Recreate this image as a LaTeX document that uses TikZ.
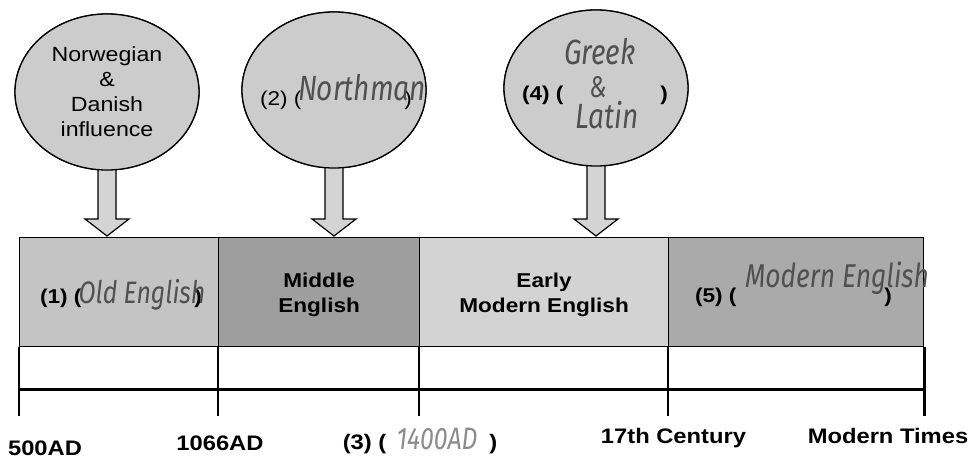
\documentclass[tikz,border=0pt]{standalone}
\usepackage{fontspec}
\setmainfont{Liberation Sans}[FakeStretch=1.13]
\newfontfamily\hand{Fira Sans}[FakeStretch=0.8]
\usetikzlibrary{shapes.geometric,calc}

\definecolor{ringfill}{HTML}{CCCCCC}
\definecolor{arrowfill}{HTML}{D4D4D4}
\definecolor{oldfill}{HTML}{C4C4C4}
\definecolor{midfill}{HTML}{9E9E9E}
\definecolor{earlyfill}{HTML}{D3D3D3}
\definecolor{modfill}{HTML}{AAAAAA}
\definecolor{ink}{HTML}{505050}
\definecolor{pencil}{HTML}{8C8C8C}

\newcommand\handsz[1]{\hand\itshape\fontsize{#1}{#1}\selectfont}

% block arrow hanging from a bubble (#1) down onto a period box (#2)
\newcommand\dropArrow[2]{%
  \draw[drop] ($(#1.south)+(-9,-6)$) |- ($(#1.south |- #2.north)+(-22,-18)$)
    -- ($(#1.south |- #2.north)+(0,-1)$) -- ($(#1.south |- #2.north)+(22,-18)$)
    -| ($(#1.south)+(9,-6)$);}

\tikzset{
  bubble/.style={ellipse, draw, line width=1.3pt, fill=ringfill,
    minimum width=184pt, minimum height=156pt, inner sep=0pt,
    align=center, font=\fontsize{20.5}{25}\selectfont},
  period/.style={rectangle, draw, line width=1.2pt, anchor=north west,
    minimum height=109pt, inner sep=0pt},
  drop/.style={draw, line width=1.2pt, fill=arrowfill},
  axis/.style={line width=2.8pt},
  printed/.style={font=\fontsize{20}{25}\selectfont, inner sep=0pt, anchor=base},
  heavy/.style={font=\bfseries\fontsize{20}{25}\selectfont, inner sep=0pt, anchor=base},
  heading/.style={font=\bfseries\fontsize{20}{25}\selectfont, inner sep=0pt, align=center},
  datetxt/.style={font=\bfseries\fontsize{21}{25}\selectfont, inner sep=0pt, anchor=base},
  scrawl/.style={text=ink, inner sep=0pt, anchor=base},
}

\begin{document}
\begin{tikzpicture}[x=1pt, y=-1pt]
\fill[white] (0,0) rectangle (972,460);
\useasboundingbox (0,0) rectangle (972,460);

% period boxes of the timeline
\node[period, fill=oldfill,   minimum width=199pt] (b1) at (19,237)  {};
\node[period, fill=midfill,   minimum width=201pt] (b2) at (218,237) {};
\node[period, fill=earlyfill, minimum width=249pt] (b3) at (419,237) {};
\node[period, fill=modfill,   minimum width=255pt] (b4) at (668,237) {};

% axis below the boxes: ticks and a rule
\draw[axis] (b1.south west) -- ++(0,69);
\draw[axis] (b2.south west) -- ++(0,69);
\draw[axis] (b3.south west) -- ++(0,69);
\draw[axis] (b4.south west) -- ++(0,69);
\draw[axis] (b4.south east) -- ++(0,69);
\draw[axis] ($(b1.south west)+(0,42)$) -- ($(b4.south east)+(0,42)$);

% influence bubbles and their arrows
\coordinate (p1) at (107,92);
\coordinate (p2) at (334,90);
\coordinate (p3) at (596,88);
\path (p1) node[bubble] (c1) {};
\path (p2) node[bubble] (c2) {};
\path (p3) node[bubble] (c3) {};
\dropArrow{c1}{b1}
\dropArrow{c2}{b2}
\dropArrow{c3}{b3}
\node[bubble] (c1) at (p1) {Norwegian\\\&\\Danish\\influence};
\node[bubble] (c2) at (p2) {};
\node[bubble] (c3) at (p3) {};

% printed labels
\node[printed] (q2) at (336,106) {(2) (\hspace{103pt})};
\node[heavy]   (q4) at (595,100) {(4) (\hspace{97pt})};
\node[heavy]   (q1) at (121,303) {(1) (\hspace{113pt})};
\node[heading] (m2) at ($(b2.center)+(0,2.5)$) {Middle\\English};
\node[heading] (m3) at ($(b3.center)+(0,2.5)$) {Early\\Modern English};
\node[heavy]   (q5) at (793.5,302) {(5) (\hspace{148pt})};

\node[datetxt] (d1) at (45,455)    {500AD};
\node[datetxt] (d2) at (220,450)   {1066AD};
\node[datetxt] (d3) at (420,449)   {(3) (\hspace{103pt})};
\node[datetxt] (d4) at (673.5,443) {17th Century};
\node[datetxt] (d5) at (888,443)   {Modern Times};

% hand-written answers
\node[scrawl, font=\handsz{31}] (h1) at (142,303) {Old English};
\node[scrawl, font=\handsz{35}] (h2) at (362,100) {Northman};
\node[scrawl, font=\handsz{35}] (h3) at (600,65)  {Greek};
\node[scrawl, font=\handsz{30}] (h4) at (598,97)  {\&};
\node[scrawl, font=\handsz{35}] (h5) at (607,128) {Latin};
\node[scrawl, font=\handsz{33}] (h6) at (837,287) {Modern English};
\node[scrawl, font=\handsz{31}, text=pencil] (h7) at (437,449) {1400AD};
\end{tikzpicture}
\end{document}
